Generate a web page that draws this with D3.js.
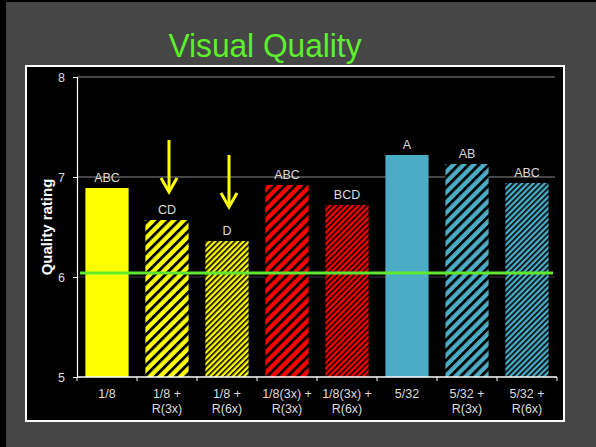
<!DOCTYPE html>
<html>
<head>
<meta charset="utf-8">
<script src="https://cdn.jsdelivr.net/npm/d3@7"></script>
<style>
  html, body { margin: 0; padding: 0; background: #000; }
  svg { display: block; }
  text { font-family: "Liberation Sans", Arial, sans-serif; }
</style>
</head>
<body>
<svg id="chart" width="596" height="447"></svg>
<script>
// ---- data ----
const categories = ["1/8", "1/8 + R(3x)", "1/8 + R(6x)", "1/8(3x) + R(3x)", "1/8(3x) + R(6x)", "5/32", "5/32 + R(3x)", "5/32 + R(6x)"];
const values = [6.89, 6.57, 6.36, 6.92, 6.72, 7.22, 7.13, 6.94];
const groupLetters = ["ABC", "CD", "D", "ABC", "BCD", "A", "AB", "ABC"];
const barColors = ["#ffff00", "#ffff00", "#ffff00", "#ff0000", "#ff0000", "#4bacc6", "#4bacc6", "#4bacc6"];
const barFills = ["solid", "wide", "narrow", "wide", "narrow", "solid", "wide", "narrow"];
const yTicks = [5, 6, 7, 8];
const referenceValue = 6.04;
const arrowCats = ["1/8 + R(3x)", "1/8 + R(6x)"];
const arrowFrom = [7.37, 7.22];
const arrowTo = [6.84, 6.69];
const titleText = "Visual Quality";
const yLabel = "Quality rating";

// ---- drawing ----
const svg = d3.select("#chart");
const W = 596, H = 447;

svg.append("rect").attr("x", 0).attr("y", 0).attr("width", W).attr("height", H).attr("fill", "#000");
svg.append("rect").attr("x", 6).attr("y", 2).attr("width", W - 6).attr("height", H - 2).attr("fill", "#464646");

// title
svg.append("text")
  .attr("x", 265).attr("y", 57)
  .attr("text-anchor", "middle")
  .attr("font-size", 34)
  .attr("textLength", 193).attr("lengthAdjust", "spacingAndGlyphs")
  .attr("fill", "#5cf02c")
  .text(titleText);

// panel
svg.append("rect").attr("x", 26).attr("y", 66).attr("width", 538).attr("height", 355)
  .attr("fill", "#000").attr("stroke", "#fff").attr("stroke-width", 2);

const x = d3.scaleBand().domain(categories).range([77, 557]).paddingInner(0.28).paddingOuter(0.14);
const y = d3.scaleLinear().domain([5, 8]).range([377, 77]);
const step = x.step();

// patterns
const defs = svg.append("defs");
const uniqueColors = Array.from(new Set(barColors));
const patternSpec = { wide: 7.2, narrow: 4.0 };
uniqueColors.forEach((c, ci) => {
  Object.entries(patternSpec).forEach(([kind, p]) => {
    const pat = defs.append("pattern")
      .attr("id", `pat-${ci}-${kind}`)
      .attr("patternUnits", "userSpaceOnUse")
      .attr("width", p).attr("height", p)
      .attr("patternTransform", "rotate(45)");
    pat.append("rect").attr("width", p).attr("height", p).attr("fill", c);
    pat.append("rect").attr("width", p * 0.4).attr("height", p).attr("fill", "#000");
  });
});
function fillFor(i) {
  if (barFills[i] === "solid") return barColors[i];
  return `url(#pat-${uniqueColors.indexOf(barColors[i])}-${barFills[i]})`;
}

// gridlines
svg.append("g").selectAll("line").data(yTicks.filter(t => t > 5)).join("line")
  .attr("x1", 77).attr("x2", 555)
  .attr("y1", d => y(d)).attr("y2", d => y(d))
  .attr("stroke", d => d === 6 ? "#3c3c3c" : "#8a8a8a").attr("stroke-width", 1.2);

// bars
svg.append("g").selectAll("rect").data(values).join("rect")
  .attr("x", (d, i) => x(categories[i]))
  .attr("y", d => y(d))
  .attr("width", x.bandwidth())
  .attr("height", d => y(5) - y(d))
  .attr("fill", (d, i) => fillFor(i));

// bar letter labels
svg.append("g").selectAll("text").data(values).join("text")
  .attr("x", (d, i) => x(categories[i]) + x.bandwidth() / 2)
  .attr("y", d => y(d) - 6)
  .attr("text-anchor", "middle")
  .attr("font-size", 12.5)
  .attr("fill", "#dcdcdc")
  .text((d, i) => groupLetters[i]);

// reference line
svg.append("line")
  .attr("x1", 80).attr("x2", 553)
  .attr("y1", y(referenceValue)).attr("y2", y(referenceValue))
  .attr("stroke", "#5ee82e").attr("stroke-width", 3);

// y axis
const yAxis = d3.axisLeft(y).tickValues(yTicks).tickSize(4).tickPadding(8).tickFormat(d3.format("d"));
const yg = svg.append("g").attr("transform", "translate(77,0)").call(yAxis);
yg.select(".domain").attr("stroke", "#fff").attr("stroke-width", 1.2);
yg.selectAll(".tick line").attr("stroke", "#fff");
yg.selectAll(".tick text").attr("fill", "#dcdcdc").attr("font-size", 12.5)
  .attr("font-family", "Liberation Sans, Arial, sans-serif");

// x axis (baseline + boundary ticks)
svg.append("line").attr("x1", 77).attr("x2", 557).attr("y1", y(5)).attr("y2", y(5))
  .attr("stroke", "#fff").attr("stroke-width", 1.5);
const bounds = d3.range(categories.length + 1).map(i => 77 + i * step);
svg.append("g").selectAll("line").data(bounds).join("line")
  .attr("x1", d => d).attr("x2", d => d)
  .attr("y1", y(5)).attr("y2", y(5) + 4)
  .attr("stroke", "#fff");

// x labels
const xl = svg.append("g").selectAll("text").data(categories).join("text")
  .attr("text-anchor", "middle")
  .attr("font-size", 12.5)
  .attr("fill", "#dcdcdc");
xl.each(function(d) {
  const parts = d.split(" + ");
  const lines = parts.length > 1 ? [parts[0] + " +", parts[1]] : [d];
  const cx = x(d) + x.bandwidth() / 2;
  lines.forEach((ln, k) => {
    d3.select(this).append("tspan").attr("x", cx).attr("y", 398 + k * 15).text(ln);
  });
});

// y label
svg.append("text")
  .attr("transform", `translate(52,${(y(5) + y(8)) / 2}) rotate(-90)`)
  .attr("text-anchor", "middle")
  .attr("font-size", 15).attr("font-weight", "bold")
  .attr("fill", "#fff")
  .text(yLabel);

// arrows
const ag = svg.append("g").attr("stroke", "#ffff00").attr("stroke-width", 3).attr("fill", "none");
arrowCats.forEach((c, i) => {
  const cx = x(c) + x.bandwidth() / 2 + 2;
  const y0 = y(arrowFrom[i]), y1 = y(arrowTo[i]);
  ag.append("line").attr("x1", cx).attr("x2", cx).attr("y1", y0).attr("y2", y1 - 2);
  ag.append("path").attr("d", `M${cx - 8},${y1 - 15} L${cx},${y1 - 1} L${cx + 8},${y1 - 15}`)
    .attr("stroke-linejoin", "miter");
});
</script>
</body>
</html>
